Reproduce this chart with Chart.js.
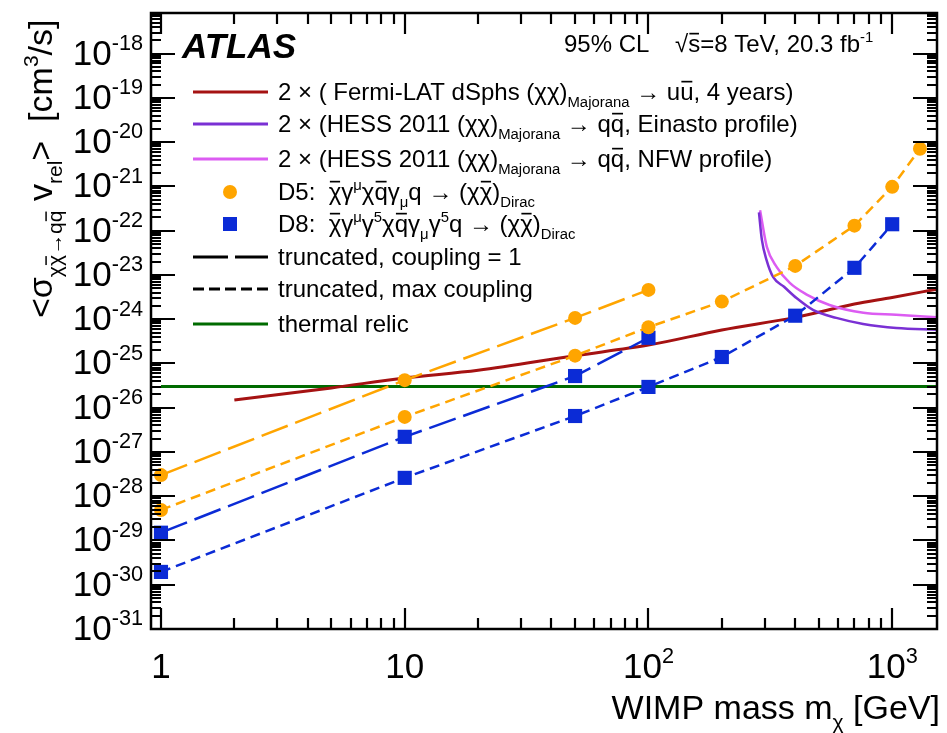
<!DOCTYPE html>
<html lang="en">
<head>
    <meta charset="UTF-8">
    <title>ATLAS WIMP annihilation limits</title>
    <script src="https://cdn.jsdelivr.net/npm/chart.js@4"></script>
    <style>
        html, body { margin: 0; padding: 0; background: #fff; }
        canvas { display: block; }
    </style>
</head>
<body>
    <canvas id="chart" width="947" height="733"></canvas>

    <script>
        // Data (mass in GeV, <sigma v> in cm^3/s)
        const d5Mass1 = [1, 10, 50, 100];
        const d5Coup1 = [3.0e-28, 4.2e-26, 1.07e-24, 4.6e-24];
        const d5MassMax = [1, 10, 50, 100, 200, 400, 700, 1000, 1300];
        const d5CoupMax = [4.9e-29, 6.2e-27, 1.5e-25, 6.6e-25, 2.5e-24, 1.6e-23, 1.3e-22, 9.8e-22, 7.1e-21];

        const d8Mass1 = [1, 10, 50, 100];
        const d8Coup1 = [1.5e-29, 2.2e-27, 5.2e-26, 3.8e-25];
        const d8MassMax = [1, 10, 50, 100, 200, 400, 700, 1000];
        const d8CoupMax = [1.95e-30, 2.6e-28, 6.5e-27, 2.95e-26, 1.4e-25, 1.2e-24, 1.45e-23, 1.4e-22];

        const fermiMass = [2, 5, 10, 20, 50, 100, 200, 400, 700, 1000, 1530];
        const fermiSv = [1.5e-26, 2.8e-26, 4.7e-26, 7.0e-26, 1.5e-25, 2.6e-25, 5.7e-25, 1.1e-24, 2.2e-24, 3.1e-24, 4.8e-24];

        const einastoMass = [284, 292, 305, 325, 360, 405, 475, 590, 760, 1040, 1530];
        const einastoSv = [2.6e-22, 6.2e-23, 2.2e-23, 8.9e-24, 5.4e-24, 3.0e-24, 1.6e-24, 1.07e-24, 7.8e-25, 6.3e-25, 5.8e-25];

        const nfwMass = [287, 306, 336, 380, 446, 553, 762, 1038, 1530];
        const nfwSv = [2.9e-22, 4.3e-23, 1.5e-23, 6.6e-24, 3.6e-24, 2.1e-24, 1.4e-24, 1.26e-24, 1.1e-24];

        const thermalMass = [1, 1530];
        const thermalSv = [3e-26, 3e-26];

        // axis ticks
        const xTickVals = [1, 10, 100, 1000];
        const xTickText = [[['1']], [['10']], [['10'], ['2', 'p']], [['10'], ['3', 'p']]];
        const yTickExps = [-31, -30, -29, -28, -27, -26, -25, -24, -23, -22, -21, -20, -19, -18];

        const FONT = '"Liberation Sans", Arial, Helvetica, sans-serif';
        const ORANGE = '#ffa500';
        const BLUE = '#0b2bd6';
        const FERMI = '#a51212';
        const EINASTO = '#7a30d4';
        const NFW = '#dc5cf2';
        const GREEN = '#006b00';

        const pts = (xs, ys) => xs.map((x, i) => ({ x: x, y: ys[i] }));

        // --- rich text helper: segments are [text, kind('n'|'b'|'p'), overline]
        function segSize(k, size) { return k === 'b' || k === 'p' ? size * 0.62 : size; }
        function segShift(k, size) { return k === 'b' ? size * 0.3 : (k === 'p' ? -size * 0.42 : 0); }
        function richWidth(ctx, segs, size, style) {
            let w = 0;
            segs.forEach(([t, k = 'n']) => {
                ctx.font = style + segSize(k, size) + 'px ' + FONT;
                w += ctx.measureText(t).width;
            });
            return w;
        }
        function drawRich(ctx, x, y, segs, size, align = 'left', style = '') {
            if (align !== 'left') {
                const w = richWidth(ctx, segs, size, style);
                x -= align === 'right' ? w : w / 2;
            }
            ctx.textAlign = 'left';
            ctx.textBaseline = 'alphabetic';
            segs.forEach(([t, k = 'n', bar]) => {
                const fs = segSize(k, size);
                ctx.font = style + fs + 'px ' + FONT;
                const w = ctx.measureText(t).width;
                const yy = y + segShift(k, size);
                ctx.fillText(t, x, yy);
                if (bar) ctx.fillRect(x + fs * 0.05, yy - fs * 0.8, w - fs * 0.1, Math.max(1.3, fs * 0.07));
                x += w;
            });
        }

        const legendRows = [
            { kind: 'line', color: FERMI, text: [['2 × ( Fermi-LAT dSphs (χχ)'], ['Majorana', 'b'], [' → u'], ['u', 'n', 1], [', 4 years)']] },
            { kind: 'line', color: EINASTO, text: [['2 × (HESS 2011 (χχ)'], ['Majorana', 'b'], [' → q'], ['q', 'n', 1], [', Einasto profile)']] },
            { kind: 'line', color: NFW, text: [['2 × (HESS 2011 (χχ)'], ['Majorana', 'b'], [' → q'], ['q', 'n', 1], [', NFW profile)']] },
            { kind: 'circle', color: ORANGE, text: [['D5:  '], ['χ', 'n', 1], ['γ'], ['μ', 'p'], ['χ'], ['q', 'n', 1], ['γ'], ['μ', 'b'], ['q → (χ'], ['χ', 'n', 1], [')'], ['Dirac', 'b']] },
            { kind: 'square', color: BLUE, text: [['D8:  '], ['χ', 'n', 1], ['γ'], ['μ', 'p'], ['γ'], ['5', 'p'], ['χ'], ['q', 'n', 1], ['γ'], ['μ', 'b'], ['γ'], ['5', 'p'], ['q → (χ'], ['χ', 'n', 1], [')'], ['Dirac', 'b']] },
            { kind: 'dash', color: '#000', dash: [35, 7], text: [['truncated, coupling = 1']] },
            { kind: 'dash', color: '#000', dash: [11, 5], text: [['truncated, max coupling']] },
            { kind: 'line', color: GREEN, text: [['thermal relic']] }
        ];
        const legendY = [92, 124, 159, 192, 224, 257, 289, 324];

        const decorPlugin = {
            id: 'decor',
            beforeDraw(chart) {
                const ctx = chart.ctx;
                ctx.save();
                ctx.fillStyle = '#fff';
                ctx.fillRect(0, 0, chart.width, chart.height);
                ctx.restore();
            },
            afterDraw(chart) {
                const ctx = chart.ctx;
                const a = chart.chartArea;
                const xs = chart.scales.x, ys = chart.scales.y;
                ctx.save();
                ctx.strokeStyle = '#000';
                ctx.fillStyle = '#000';

                // frame
                ctx.lineWidth = 2.5;
                ctx.strokeRect(a.left, a.top, a.right - a.left, a.bottom - a.top);

                // x ticks (bottom and top, inward)
                ctx.lineWidth = 2.2;
                ctx.beginPath();
                for (let d = -1; d <= 3; d++) {
                    for (let k = 1; k <= 9; k++) {
                        const v = k * Math.pow(10, d);
                        if (v < xs.min || v > xs.max) continue;
                        const px = Math.round(xs.getPixelForValue(v));
                        const len = k === 1 ? 21 : 11;
                        ctx.moveTo(px, a.bottom); ctx.lineTo(px, a.bottom - len);
                        ctx.moveTo(px, a.top); ctx.lineTo(px, a.top + len);
                    }
                }
                // y ticks (left and right, inward)
                for (let e = -32; e <= -17; e++) {
                    for (let k = 1; k <= 9; k++) {
                        const v = k * Math.pow(10, e);
                        if (v < ys.min * 0.999 || v > ys.max) continue;
                        const py = Math.round(ys.getPixelForValue(v));
                        const len = k === 1 ? 24 : 10;
                        ctx.moveTo(a.left, py); ctx.lineTo(a.left + len, py);
                        ctx.moveTo(a.right, py); ctx.lineTo(a.right - len, py);
                    }
                }
                ctx.stroke();

                // tick labels
                xTickVals.forEach((v, i) => {
                    drawRich(ctx, xs.getPixelForValue(v), 678, xTickText[i], 35, 'center');
                });
                yTickExps.forEach(e => {
                    const py = ys.getPixelForValue(Math.pow(10, e));
                    drawRich(ctx, 143, py + 11, [['10'], [String(e), 'p']], 35, 'right');
                });

                // axis titles
                drawRich(ctx, 940, 719, [['WIMP mass m'], ['χ', 'b'], [' [GeV]']], 34, 'right');
                ctx.save();
                ctx.translate(52, 318);
                ctx.rotate(-Math.PI / 2);
                drawRich(ctx, 0, 0, [['<σ'], ['χ', 'b'], ['χ', 'b', 1], ['→q', 'b'], ['q', 'b', 1], [' v'], ['rel', 'b'], ['>  [cm'], ['3', 'p'], ['/s]']], 34);
                ctx.restore();

                // labels
                drawRich(ctx, 182, 58, [['ATLAS']], 35, 'left', 'italic bold ');
                drawRich(ctx, 564, 52, [['95% CL']], 24);
                drawRich(ctx, 675, 52, [['√'], ['s', 'n', 1], ['=8 TeV, 20.3 fb'], ['-1', 'p']], 24);

                // legend
                legendRows.forEach((row, i) => {
                    const y = legendY[i];
                    ctx.save();
                    ctx.strokeStyle = row.color;
                    ctx.fillStyle = row.color;
                    ctx.lineWidth = 3;
                    if (row.kind === 'line' || row.kind === 'dash') {
                        ctx.setLineDash(row.dash || []);
                        ctx.beginPath();
                        ctx.moveTo(193, y); ctx.lineTo(268, y);
                        ctx.stroke();
                    } else if (row.kind === 'circle') {
                        ctx.beginPath();
                        ctx.arc(230, y, 7, 0, Math.PI * 2);
                        ctx.fill();
                    } else {
                        ctx.fillRect(223, y - 7, 14, 14);
                    }
                    ctx.restore();
                    drawRich(ctx, 278, y + 8, row.text, 24);
                });
                ctx.restore();
            }
        };

        const dataLine = (label, xs, ys, color, dash, style, radius) => ({
            label: label,
            data: pts(xs, ys),
            borderColor: color,
            backgroundColor: color,
            borderWidth: 2.5,
            borderDash: dash,
            pointStyle: style,
            pointRadius: radius,
            pointHoverRadius: radius,
            pointBorderWidth: 0,
            fill: false
        });
        const curve = (label, xs, ys, color, width) => ({
            label: label,
            data: pts(xs, ys),
            borderColor: color,
            borderWidth: width,
            pointRadius: 0,
            cubicInterpolationMode: 'monotone',
            fill: false
        });

        new Chart(document.getElementById('chart'), {
            type: 'line',
            data: {
                datasets: [
                    dataLine('D5 coupling = 1', d5Mass1, d5Coup1, ORANGE, [28, 8], 'circle', 7),
                    dataLine('D5 max coupling', d5MassMax, d5CoupMax, ORANGE, [10, 6], 'circle', 7),
                    dataLine('D8 coupling = 1', d8Mass1, d8Coup1, BLUE, [28, 8], 'rect', 10),
                    dataLine('D8 max coupling', d8MassMax, d8CoupMax, BLUE, [10, 6], 'rect', 10),
                    curve('HESS Einasto', einastoMass, einastoSv, EINASTO, 2.5),
                    curve('HESS NFW', nfwMass, nfwSv, NFW, 2.5),
                    curve('Fermi-LAT', fermiMass, fermiSv, FERMI, 3),
                    curve('thermal relic', thermalMass, thermalSv, GREEN, 3)
                ]
            },
            options: {
                responsive: false,
                animation: false,
                devicePixelRatio: 1,
                layout: { padding: { top: 13, right: 6, left: 0, bottom: 0 } },
                plugins: { legend: { display: false }, tooltip: { enabled: false } },
                scales: {
                    x: {
                        type: 'logarithmic', min: 0.91, max: 1527,
                        ticks: { display: false }, grid: { display: false }, border: { display: false },
                        afterFit: s => { s.height = 104; }
                    },
                    y: {
                        type: 'logarithmic', min: 1e-31, max: 8.3e-18,
                        ticks: { display: false }, grid: { display: false }, border: { display: false },
                        afterFit: s => { s.width = 151; }
                    }
                }
            },
            plugins: [decorPlugin]
        });
    </script>
</body>
</html>
